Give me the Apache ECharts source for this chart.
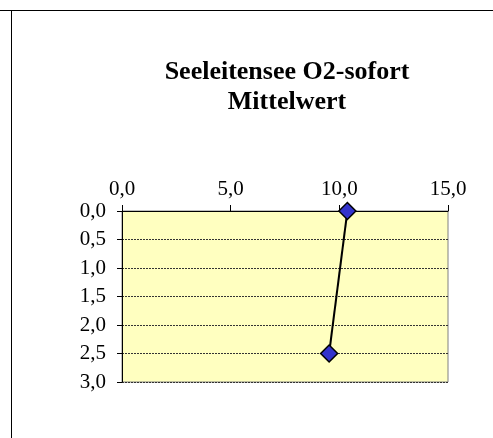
<!DOCTYPE html>
<html>
<head>
<meta charset="utf-8">
<script src="https://cdn.jsdelivr.net/npm/echarts@6/dist/echarts.min.js"></script>
<style>
  html, body { margin: 0; padding: 0; background: #fff; }
  #chart { width: 493px; height: 438px; }
</style>
</head>
<body>
<div id="chart"></div>
<script>
// Messwerte: O2 (mg/l) gegen Tiefe (m)
const depths = [0, 2.5];
const o2Values = [10.37, 9.53];
const titleText = "Seeleitensee O2-sofort\nMittelwert";

const fmt = (v) => v.toFixed(1).replace(".", ",");
const font = "Liberation Serif";

const chart = echarts.init(document.getElementById("chart"));
const option = {
  animation: false,
  title: {
    text: titleText,
    left: 282,
    top: 52,
    textAlign: "center",
    textStyle: {
      fontFamily: font,
      fontSize: 26,
      fontWeight: "bold",
      color: "#000",
      lineHeight: 30,
    },
  },
  grid: {
    left: 122,
    top: 211,
    width: 326,
    height: 171,
    show: true,
    backgroundColor: "#ffffc0",
    borderColor: "#808080",
    borderWidth: 1,
  },
  xAxis: {
    type: "value",
    position: "top",
    min: 0,
    max: 15,
    interval: 5,
    axisLine: { show: true, lineStyle: { color: "#000", width: 1 } },
    axisTick: { show: true, length: 6, lineStyle: { color: "#000" } },
    axisLabel: {
      formatter: fmt,
      fontFamily: font,
      fontSize: 21,
      color: "#000",
      margin: 11,
    },
    splitLine: { show: false },
  },
  yAxis: {
    type: "value",
    inverse: true,
    min: 0,
    max: 3,
    interval: 0.5,
    axisLine: { show: true, lineStyle: { color: "#000", width: 1 } },
    axisTick: { show: true, length: 5, lineStyle: { color: "#000" } },
    axisLabel: {
      formatter: fmt,
      fontFamily: font,
      fontSize: 21,
      color: "#000",
      margin: 16,
    },
    splitLine: {
      show: true,
      lineStyle: { color: "#333", type: [2, 1], width: 1 },
    },
  },
  graphic: [
    { type: "line", shape: { x1: 0, y1: 10.5, x2: 493, y2: 10.5 }, style: { stroke: "#000", lineWidth: 1 } },
    { type: "line", shape: { x1: 11.5, y1: 10, x2: 11.5, y2: 438 }, style: { stroke: "#000", lineWidth: 1 } },
  ],
  series: [
    {
      type: "line",
      data: depths.map((d, i) => [o2Values[i], d]),
      symbol: "diamond",
      symbolSize: 17,
      itemStyle: { color: "#3333cc", borderColor: "#000", borderWidth: 1.5 },
      lineStyle: { color: "#000", width: 2 },
      z: 5,
    },
  ],
};
chart.setOption(option);
</script>
</body>
</html>
